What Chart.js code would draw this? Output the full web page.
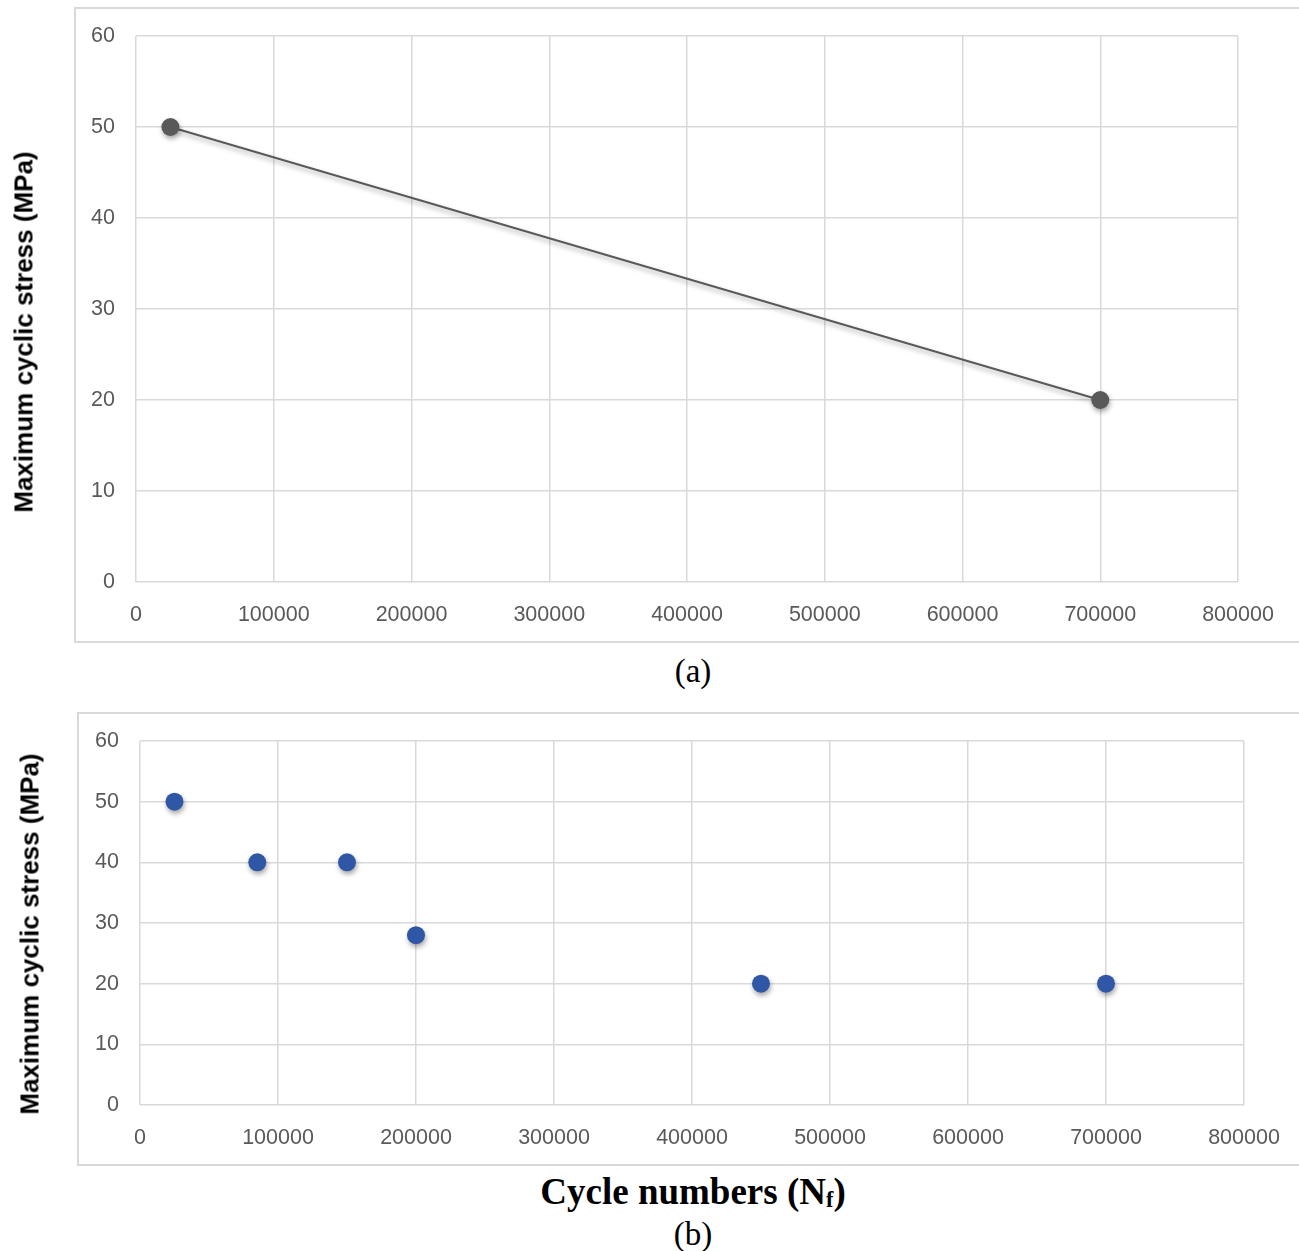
<!DOCTYPE html>
<html>
<head>
<meta charset="utf-8">
<script src="https://cdn.jsdelivr.net/npm/chart.js@4"></script>
<style>
  body { margin: 0; background: #fff; width: 1299px; height: 1251px; position: relative; overflow: hidden; }
  .box { position: absolute; border: 2px solid #d9d9d9; box-sizing: border-box; }
  .wrap { position: absolute; left: 0; width: 1299px; }
  .ytitle { position: absolute; font: bold 26px "Liberation Sans", Arial, sans-serif; color: #000;
            white-space: nowrap; transform: translate(-50%, -50%) rotate(-90deg); }
  .cap { position: absolute; font-family: "Liberation Serif", "Times New Roman", serif; color: #000;
         white-space: nowrap; line-height: 1; transform: translate(-50%, -50%); }
</style>
</head>
<body>
<div class="box" style="left:74px;top:7px;width:1240px;height:636px;"></div>
<div class="box" style="left:77px;top:712px;width:1240px;height:454px;"></div>
<div class="wrap" style="top:0;height:642px;"><canvas id="chartA"></canvas></div>
<div class="wrap" style="top:700px;height:465px;"><canvas id="chartB"></canvas></div>
<div class="ytitle" style="left:24px;top:332px;">Maximum cyclic stress (MPa)</div>
<div class="ytitle" style="left:30px;top:934px;">Maximum cyclic stress (MPa)</div>
<div class="cap" style="left:693px;top:671px;font-size:33px;">(a)</div>
<div class="cap" style="left:693px;top:1192px;font-size:37px;font-weight:bold;">Cycle numbers (N<span style="font-size:60%;vertical-align:-0.12em;">f</span>)</div>
<div class="cap" style="left:693px;top:1234px;font-size:33px;">(b)</div>
<script>
// (a) fitted line
const cyclesA = [25000, 700000];
const stressA = [50, 20];

// (b) test points
const cyclesB = [25000, 85000, 150000, 200000, 450000, 700000];
const stressB = [50, 40, 40, 28, 20, 20];

const xTicks = [0, 100000, 200000, 300000, 400000, 500000, 600000, 700000, 800000];
const yTicks = [0, 10, 20, 30, 40, 50, 60];

const gridColor = '#d9d9d9';
const tickFont = { family: '"Liberation Sans", Arial, sans-serif', size: 21.5 };

const shadow = {
  id: 'shadow',
  beforeDatasetsDraw(chart) {
    const ctx = chart.ctx;
    ctx.save();
    ctx.shadowColor = 'rgba(0,0,0,0.35)';
    ctx.shadowBlur = 5;
    ctx.shadowOffsetX = 1;
    ctx.shadowOffsetY = 3;
  },
  afterDatasetsDraw(chart) { chart.ctx.restore(); }
};

function toPoints(xs, ys) {
  return xs.map((x, i) => ({ x: x, y: ys[i] }));
}

function makeOptions(yWidth, xHeight, pad) {
  return {
    responsive: true,
    maintainAspectRatio: false,
    animation: false,
    layout: { padding: pad },
    plugins: { legend: { display: false }, tooltip: { enabled: false } },
    scales: {
      x: {
        type: 'linear', min: xTicks[0], max: xTicks[xTicks.length - 1],
        afterBuildTicks: s => { s.ticks = xTicks.map(v => ({ value: v })); },
        afterFit: s => { s.height = xHeight; s.paddingLeft = 0; s.paddingRight = 0; },
        grid: { color: gridColor, lineWidth: 1.5, drawTicks: false },
        border: { display: false },
        ticks: { color: '#595959', font: tickFont, padding: 20, maxRotation: 0, callback: v => String(v) }
      },
      y: {
        type: 'linear', min: yTicks[0], max: yTicks[yTicks.length - 1],
        afterBuildTicks: s => { s.ticks = yTicks.map(v => ({ value: v })); },
        afterFit: s => { s.width = yWidth; s.paddingTop = 0; s.paddingBottom = 0; },
        grid: { color: gridColor, lineWidth: 1.5, drawTicks: false },
        border: { display: false },
        ticks: { color: '#595959', font: tickFont, padding: 21, callback: v => String(v) }
      }
    }
  };
}

new Chart(document.getElementById('chartA'), {
  type: 'scatter',
  data: {
    datasets: [{
      data: toPoints(cyclesA, stressA),
      showLine: true,
      borderColor: '#595959',
      borderWidth: 2,
      backgroundColor: '#595959',
      pointRadius: 9,
      pointBorderWidth: 0
    }]
  },
  options: makeOptions(136, 60, { top: 36, right: 61, left: 0, bottom: 0 }),
  plugins: [shadow]
});

new Chart(document.getElementById('chartB'), {
  type: 'scatter',
  data: {
    datasets: [{
      data: toPoints(cyclesB, stressB),
      showLine: false,
      backgroundColor: '#2f57a5',
      borderColor: '#2f57a5',
      pointRadius: 9,
      pointBorderWidth: 0
    }]
  },
  options: makeOptions(140, 60, { top: 41, right: 55, left: 0, bottom: 0 }),
  plugins: [shadow]
});
</script>
</body>
</html>
